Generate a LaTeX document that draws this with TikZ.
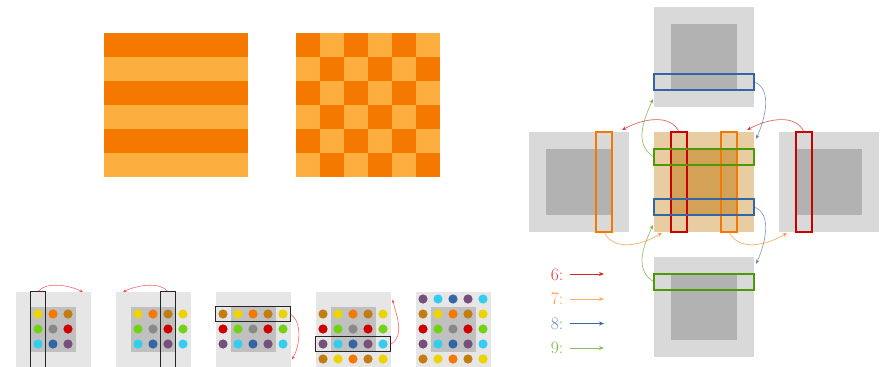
\documentclass[tikz,border=0pt]{standalone}
\usetikzlibrary{arrows.meta}
\definecolor{odark}{RGB}{245,121,0}
\definecolor{olight}{RGB}{252,175,62}
\definecolor{cyel}{RGB}{237,212,0}
\definecolor{corg}{RGB}{245,121,0}
\definecolor{cbrn}{RGB}{193,125,17}
\definecolor{cgrn}{RGB}{115,210,22}
\definecolor{cgry}{RGB}{136,138,133}
\definecolor{cred}{RGB}{204,0,0}
\definecolor{ccyn}{RGB}{50,205,240}
\definecolor{cblu}{RGB}{52,101,164}
\definecolor{cpur}{RGB}{117,80,123}
\definecolor{plight}{RGB}{230,230,230}
\definecolor{pinner}{RGB}{192,192,192}
\definecolor{bouter}{RGB}{217,217,217}
\definecolor{binner}{RGB}{178,178,178}
\definecolor{touter}{RGB}{233,205,162}
\definecolor{tinner}{RGB}{212,162,86}
\definecolor{sred}{RGB}{204,0,0}
\definecolor{sorg}{RGB}{245,121,0}
\definecolor{sgrn}{RGB}{78,154,6}
\definecolor{sblu}{RGB}{52,101,164}
\tikzset{
  strip/.style={draw=#1, line width=1.9pt},
  blackstrip/.style={draw=black!85, line width=1.5pt},
  smallarr/.style={draw=red, opacity=0.6, line width=0.6pt, -{Stealth[length=3.5pt,width=3pt]}},
  bigarr/.style={draw=#1, opacity=0.6, line width=0.7pt, -{Stealth[length=4.5pt,width=4pt]}},
  legarr/.style={draw=#1, line width=0.9pt, -{Stealth[length=5pt,width=4pt]}},
  legtxt/.style={text=#1, anchor=base east, inner sep=0pt, font=\fontsize{17.5}{20}\selectfont},
  dotc/.style={fill=#1}
}
\begin{document}
\begin{tikzpicture}[x=1pt,y=-1pt]
\useasboundingbox (0,0) rectangle (887,367);

% ---------- stripes ----------
\foreach \i in {0,2,4} \fill[odark] (104,{33+24*\i}) rectangle (248,{57+24*\i});
\foreach \i in {1,3,5} \fill[olight] (104,{33+24*\i}) rectangle (248,{57+24*\i});

% ---------- checker ----------
\fill[olight] (296,33) rectangle (440,177);
\foreach \i in {0,...,5} \foreach \j in {0,...,5} {
  \pgfmathtruncatemacro\s{mod(\i+\j,2)}
  \ifnum\s=0 \fill[odark] ({296+24*\i},{33+24*\j}) rectangle ++(24,24); \fi
}

% ---------- bottom panels ----------
\foreach \k in {0,...,4} {
  \fill[plight] ({15.5+100*\k},291.5) rectangle ++(75,76);
  \fill[pinner] ({30.5+100*\k},306.5) rectangle ++(45,45);
  \foreach \c/\r/\cl in {1/1/cyel,2/1/corg,3/1/cbrn,1/2/cgrn,2/2/cgry,3/2/cred,1/3/ccyn,2/3/cblu,3/3/cpur}
    \fill[dotc=\cl] ({23+100*\k+15*\c},{299+15*\r}) circle (4.6pt);
}
% panel 1 extra column 4
\foreach \r/\cl in {1/cyel,2/cgrn,3/ccyn}
  \fill[dotc=\cl] ({123+15*4},{299+15*\r}) circle (4.6pt);
% panel 2 extra columns 0 and 4
\foreach \r/\cl in {1/cbrn,2/cred,3/cpur}
  \fill[dotc=\cl] (223,{299+15*\r}) circle (4.6pt);
\foreach \r/\cl in {1/cyel,2/cgrn,3/ccyn}
  \fill[dotc=\cl] (283,{299+15*\r}) circle (4.6pt);
% panel 3 and 4: columns 0,4 rows 1-3 and row 4
\foreach \k in {3,4} {
  \foreach \r/\cl in {1/cbrn,2/cred,3/cpur}
    \fill[dotc=\cl] ({23+100*\k},{299+15*\r}) circle (4.6pt);
  \foreach \r/\cl in {1/cyel,2/cgrn,3/ccyn}
    \fill[dotc=\cl] ({83+100*\k},{299+15*\r}) circle (4.6pt);
  \foreach \c/\cl in {0/cbrn,1/cyel,2/corg,3/cbrn,4/cyel}
    \fill[dotc=\cl] ({23+100*\k+15*\c},359) circle (4.6pt);
}
% panel 5 row 0
\foreach \c/\cl in {0/cpur,1/ccyn,2/cblu,3/cpur,4/ccyn}
  \fill[dotc=\cl] ({423+15*\c},299) circle (4.6pt);

% black strips
\draw[blackstrip] (30.5,291.5) rectangle (45.5,367.5);
\draw[blackstrip] (160.5,291.5) rectangle (175.5,367.5);
\draw[blackstrip] (215.5,306.5) rectangle (290.5,321.5);
\draw[blackstrip] (315.5,336.5) rectangle (390.5,351.5);

% small arrows
\coordinate (a0s) at (38,291.5);  \coordinate (a0e) at (83,292);
\coordinate (a1s) at (168,291.5); \coordinate (a1e) at (123,292);
\coordinate (a2s) at (290.5,314); \coordinate (a2e) at (292,359.5);
\coordinate (a3s) at (391,344);   \coordinate (a3e) at (392.5,299.5);
\draw[smallarr] (a0s) .. controls +(8,-10) and +(-14,-7) .. (a0e);
\draw[smallarr] (a1s) .. controls +(-8,-10) and +(14,-7) .. (a1e);
\draw[smallarr] (a2s) .. controls +(12,8) and +(8,-14) .. (a2e);
\draw[smallarr] (a3s) .. controls +(14,-8) and +(4,16) .. (a3e);

% ---------- right panel ----------
% top
\fill[bouter] (654,7) rectangle ++(100,100);
\fill[binner] (670.7,23.7) rectangle (737.3,90.3);
% left
\fill[bouter] (529,132) rectangle ++(100,100);
\fill[binner] (545.7,148.7) rectangle (612.3,215.3);
% center
\fill[touter] (654,132) rectangle ++(100,100);
\fill[tinner] (670.7,148.7) rectangle (737.3,215.3);
% right
\fill[bouter] (779,132) rectangle ++(100,100);
\fill[binner] (795.7,148.7) rectangle (862.3,215.3);
% bottom
\fill[bouter] (654,257) rectangle ++(100,100);
\fill[binner] (670.7,273.7) rectangle (737.3,340.3);

% strips
\draw[strip=sblu] (654,73.7) rectangle (754,90.3);
\draw[strip=sorg] (595.7,132) rectangle (612.3,232);
\draw[strip=sred] (670.7,132) rectangle (687.3,232);
\draw[strip=sorg] (720.7,132) rectangle (737.3,232);
\draw[strip=sgrn] (654,148.7) rectangle (754,165.3);
\draw[strip=sblu] (654,198.7) rectangle (754,215.3);
\draw[strip=sred] (795.7,132) rectangle (812.3,232);
\draw[strip=sgrn] (654,273.7) rectangle (754,290.3);

% curved arrows
\coordinate (r1s) at (679,132); \coordinate (r1e) at (622,130);
\coordinate (r2s) at (804,132); \coordinate (r2e) at (747,130);
\coordinate (b1s) at (754,82);  \coordinate (b1e) at (756,139);
\coordinate (b2s) at (754,207); \coordinate (b2e) at (756,264);
\coordinate (g1s) at (654,157); \coordinate (g1e) at (653,99);
\coordinate (g2s) at (654,282); \coordinate (g2e) at (653,225);
\coordinate (o1s) at (604,232); \coordinate (o1e) at (662,233);
\coordinate (o2s) at (729,232); \coordinate (o2e) at (787,233);
\draw[bigarr=sred] (r1s) .. controls +(-8,-18) and +(22,-12) .. (r1e);
\draw[bigarr=sred] (r2s) .. controls +(-8,-18) and +(22,-12) .. (r2e);
\draw[bigarr=sblu] (b1s) .. controls +(18,6) and +(10,-22) .. (b1e);
\draw[bigarr=sblu] (b2s) .. controls +(18,6) and +(10,-22) .. (b2e);
\draw[bigarr=sgrn] (g1s) .. controls +(-20,-12) and +(-10,22) .. (g1e);
\draw[bigarr=sgrn] (g2s) .. controls +(-20,-12) and +(-10,22) .. (g2e);
\draw[bigarr=sorg] (o1s) .. controls +(10,20) and +(-20,12) .. (o1e);
\draw[bigarr=sorg] (o2s) .. controls +(10,20) and +(-20,12) .. (o2e);

% legend
\node[legtxt=sred!75!white] (l6) at (563.5,280) {6:};
\node[legtxt=sorg!75!white] (l7) at (563.5,304.5) {7:};
\node[legtxt=sblu!75!white] (l8) at (563.5,329) {8:};
\node[legtxt=sgrn!75!white] (l9) at (563.5,353.5) {9:};
\coordinate (e6s) at (570,274); \coordinate (e6e) at (604,274);
\coordinate (e7s) at (570,299); \coordinate (e7e) at (604,299);
\coordinate (e8s) at (570,323.5); \coordinate (e8e) at (604,323.5);
\coordinate (e9s) at (570,348); \coordinate (e9e) at (604,348);
\draw[legarr=sred!85!white] (e6s) -- (e6e);
\draw[legarr=sorg!60!white] (e7s) -- (e7e);
\draw[legarr=sblu] (e8s) -- (e8e);
\draw[legarr=sgrn!65!white] (e9s) -- (e9e);
\end{tikzpicture}
\end{document}
